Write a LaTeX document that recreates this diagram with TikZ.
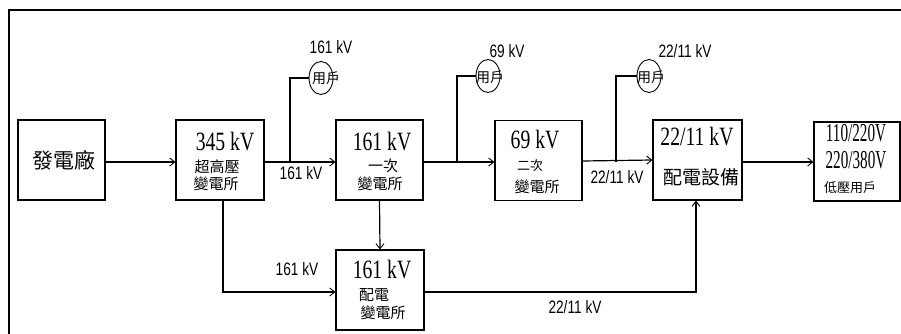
\documentclass[tikz,border=0pt]{standalone}
\usepackage{fontspec}
\setmainfont{Liberation Serif}
\newfontfamily\cjk{Noto Sans CJK TC}
\newfontfamily\labfont{Liberation Sans}
\usetikzlibrary{arrows.meta,shapes.geometric}
\newcommand{\ttl}[1]{\scalebox{0.82}[1.1]{\fontsize{24}{24}\selectfont #1}}
\newcommand{\ttlb}[1]{\scalebox{0.66}[1.12]{\fontsize{23}{23}\selectfont #1}}
\newcommand{\lbl}[1]{\scalebox{0.76}[1]{\labfont\fontsize{18}{18}\selectfont #1}}
\newcommand{\ck}[2]{{\cjk\fontsize{#1}{#1}\selectfont #2}}
\begin{document}
\begin{tikzpicture}[x=1pt,y=-1pt,
  box/.style={draw,line width=1.2pt,inner sep=0pt,minimum width=87,minimum height=80},
  arr/.style={line width=1.2pt,-{Straight Barb[length=5pt,width=8pt,line width=0.9pt]}},
  ln/.style={line width=1.2pt},
  user/.style={draw,ellipse,line width=0.9pt,inner sep=0pt,minimum width=24,minimum height=33},
  txt/.style={inner sep=0pt,anchor=center}]
\useasboundingbox (0,0) rectangle (901,334);
% frame
\draw[line width=1.2pt] (9,334) -- (9,10) -- (901,10);
% boxes
\node[box] (gen) at (61.5,160) {};
\node[box,minimum width=88] (b345) at (220,160) {};
\node[box] (b161) at (379.5,160) {};
\node[box] (b69) at (538.5,160.5) {};
\node[box,minimum width=89] (bdist) at (697.5,160) {};
\node[box,minimum width=86,minimum height=79] (blv) at (857,161.5) {};
\node[box,minimum width=88] (b161d) at (380,290) {};
% box texts
\node[txt] (tgen) at (64,160) {\ck{21}{發電廠}};
\node[txt] (t345a) at (225,142) {\ttl{345 kV}};
\node[txt] (t345b) at (217,167) {\ck{15}{超高壓}};
\node[txt] (t345c) at (216,184) {\ck{15}{變電所}};
\node[txt] (t161a) at (382,142) {\ttl{161 kV}};
\node[txt] (t161b) at (383,166) {\ck{15}{一次}};
\node[txt] (t161c) at (380,184) {\ck{15}{變電所}};
\node[txt] (t69a) at (535,140) {\ttl{69 kV}};
\node[txt] (t69b) at (530,166) {\ck{13}{二次}};
\node[txt] (t69c) at (537,187) {\ck{15}{變電所}};
\node[txt] (tda) at (697,137) {\ttl{22/11 kV}};
\node[txt] (tdb) at (701,177) {\ck{19}{配電設備}};
\node[txt] (tla) at (856,133) {\ttlb{110/220V}};
\node[txt] (tlb) at (856,160) {\ttlb{220/380V}};
\node[txt] (tlc) at (850,188) {\ck{13}{低壓用戶}};
\node[txt] (t161da) at (382,270) {\ttl{161 kV}};
\node[txt] (t161db) at (374,295) {\ck{15}{配電}};
\node[txt] (t161dc) at (383,313) {\ck{15}{變電所}};
% users
\node[user] (u1) at (321,78) {};
\node[txt] (u1t) at (326,78) {\ck{14}{用戶}};
\node[user] (u2) at (488,76) {};
\node[txt] (u2t) at (490,77) {\ck{14}{用戶}};
\node[user] (u3) at (649,76) {};
\node[txt] (u3t) at (651,77) {\ck{14}{用戶}};
\node[txt] (l1) at (331,47) {\lbl{161 kV}};
\node[txt] (l2) at (507,51) {\lbl{69 kV}};
\node[txt] (l3) at (685,51) {\lbl{22/11 kV}};
% connector labels
\node[txt] (c1) at (301,173) {\lbl{161 kV}};
\node[txt] (c2) at (617,177) {\lbl{22/11 kV}};
\node[txt] (c3) at (297,269) {\lbl{161 kV}};
\node[txt] (c4) at (575,307) {\lbl{22/11 kV}};
% junctions
\coordinate (j1) at (290,162);
\coordinate (j2) at (457,162);
\coordinate (j3) at (616,162);
% main arrows
\draw[arr] ([yshift=-2pt]gen.east) -- ([yshift=-2pt]b345.west);
\draw[arr] ([yshift=-2pt]b345.east) -- ([yshift=-2pt]b161.west);
\draw[arr] ([yshift=-2pt]b161.east) -- ([yshift=-1.5pt]b69.west);
\draw[arr] ([yshift=-0.5pt]b69.east) -- ([yshift=0pt]bdist.west);
\draw[arr] ([yshift=-2pt]bdist.east) -- ([yshift=-0.5pt]blv.west);
% branches to users
\draw[ln] (j1) |- (u1.west);
\draw[ln] (j2) |- (u2.west);
\draw[ln] (j3) |- (u3.west);
% lower paths
\draw[arr] ([xshift=3pt]b345.south) |- ([yshift=-2pt]b161d.west);
\draw[arr] (b161.south) -- (b161d.north);
\draw[arr] ([yshift=-2pt]b161d.east) -| ([xshift=-1.5pt]bdist.south);
\end{tikzpicture}
\end{document}
